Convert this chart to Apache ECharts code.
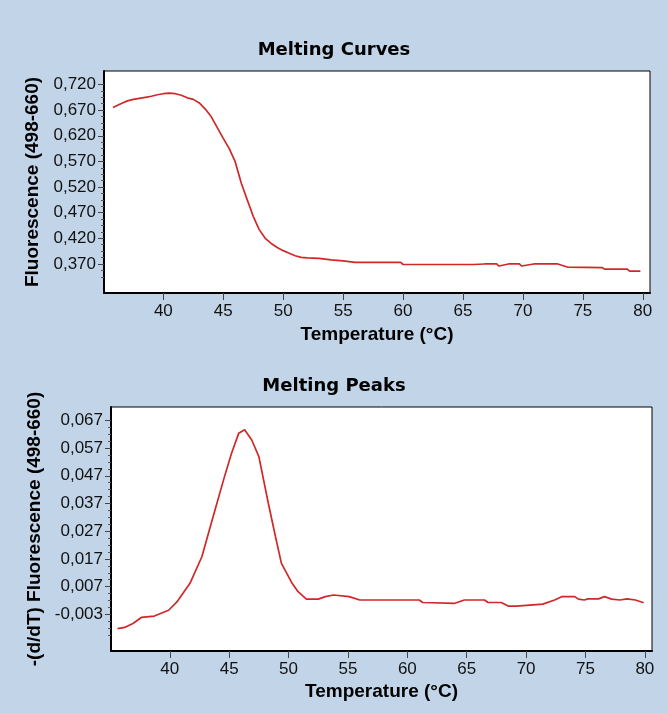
<!DOCTYPE html>
<html>
<head>
<meta charset="utf-8">
<title>Melting Curves / Melting Peaks</title>
<script src="https://cdn.jsdelivr.net/npm/echarts@6/dist/echarts.min.js"></script>
<style>
	html, body { margin: 0; padding: 0; background: #c2d5e8; }
	#chart { width: 668px; height: 713px; }
</style>
</head>
<body>
<div id="chart"></div>
<script>
// melting curve (fluorescence vs temperature)
var meltTemp = [35.8, 36.5, 37.0, 37.5, 38.0, 38.5, 39.0, 39.5, 40.0, 40.5, 41.0, 41.5, 42.0, 42.5, 43.0, 43.5, 44.0, 44.5, 45.0, 45.5,
	46.0, 46.5, 47.0, 47.5, 48.0, 48.5, 49.0, 49.5, 50.0, 50.5, 51.0, 51.5, 52.0, 53.0, 54.0, 55.0, 56.0, 58.0, 59.8, 60.0,
	62.0, 64.0, 65.9, 66.0, 66.8, 67.8, 68.0, 68.8, 69.7, 69.9, 70.9, 72.9, 73.7, 76.6, 76.8, 78.7, 78.9, 79.8];
var meltFluor = [0.675, 0.683, 0.688, 0.691, 0.693, 0.695, 0.697, 0.700, 0.702, 0.703, 0.702, 0.699, 0.694, 0.691, 0.684, 0.672, 0.657, 0.636, 0.615, 0.595,
	0.569, 0.528, 0.495, 0.463, 0.437, 0.420, 0.410, 0.402, 0.396, 0.391, 0.386, 0.383, 0.382, 0.381, 0.378, 0.376, 0.373, 0.373, 0.373, 0.369,
	0.369, 0.369, 0.369, 0.367, 0.370, 0.370, 0.366, 0.370, 0.370, 0.366, 0.370, 0.370, 0.364, 0.363, 0.360, 0.360, 0.356, 0.356];

// melting peaks (-dF/dT vs temperature)
var peakTemp = [35.6, 36.2, 36.9, 37.6, 38.7, 39.9, 40.6, 41.7, 42.7, 43.8, 44.6, 45.2, 45.8, 46.3, 46.9, 47.5, 48.3, 48.9, 49.4, 50.3,
	50.8, 51.5, 52.5, 53.1, 53.8, 55.1, 56.0, 61.0, 61.3, 64.0, 64.8, 66.5, 66.8, 67.9, 68.5, 69.2, 69.3, 71.4, 72.4, 73.0,
	74.1, 74.4, 74.9, 75.2, 76.1, 76.6, 77.2, 77.9, 78.5, 79.2, 79.9];
var peakValue = [-0.0081, -0.0077, -0.0063, -0.0041, -0.0036, -0.0015, 0.0015, 0.0082, 0.0178, 0.0346, 0.0466, 0.0551, 0.0623, 0.0636, 0.0599, 0.0539, 0.0370, 0.0250, 0.0154, 0.0082,
	0.0052, 0.0025, 0.0025, 0.0034, 0.0040, 0.0034, 0.0022, 0.0022, 0.0013, 0.0010, 0.0022, 0.0022, 0.0013, 0.0013, 0.0000, 0.0000, 0.0007, 0.0007, 0.0022, 0.0034,
	0.0034, 0.0025, 0.0022, 0.0026, 0.0026, 0.0034, 0.0025, 0.0022, 0.0026, 0.0022, 0.0012];

// tick labels
var tempTicks = [40, 45, 50, 55, 60, 65, 70, 75, 80];
var meltTicks = [0.370, 0.420, 0.470, 0.520, 0.570, 0.620, 0.670, 0.720];
var peakTicks = [-0.003, 0.007, 0.017, 0.027, 0.037, 0.047, 0.057, 0.067];

function minorTicks(ticks, step, below) {
	var out = [];
	var k, j;
	for (k = 1; k <= below; k++) out.push(ticks[0] - k * step);
	for (k = 0; k < ticks.length; k++) {
		for (j = 1; j < 4 && k < ticks.length - 1; j++) out.push(ticks[k] + j * step);
	}
	return out;
}

function zip(xs, ys) {
	return xs.map(function (x, i) { return [x, ys[i]]; });
}

var FONT = 'Liberation Sans';
var LINE_RED = '#d02828';

function tempAxis(gridIndex, nameGap) {
	return {
		type: 'value',
		gridIndex: gridIndex,
		min: 35.05,
		max: 80.6,
		name: 'Temperature (°C)',
		nameLocation: 'middle',
		nameGap: nameGap,
		nameTextStyle: { fontFamily: FONT, fontWeight: 'bold', fontSize: 19, color: '#000' },
		axisLine: { show: true, onZero: false, lineStyle: { color: '#000', width: 2 } },
		axisTick: { show: true, length: 7, customValues: tempTicks, lineStyle: { color: '#444' } },
		axisLabel: { customValues: tempTicks, fontFamily: FONT, fontSize: 17, color: '#111', margin: 10 },
		splitLine: { show: false }
	};
}

function valueAxis(gridIndex, min, max, ticks, name, nameGap) {
	return {
		type: 'value',
		gridIndex: gridIndex,
		position: 'left',
		min: min,
		max: max,
		name: name,
		nameLocation: 'middle',
		nameGap: nameGap,
		nameTextStyle: { fontFamily: FONT, fontWeight: 'bold', fontSize: 19, color: '#000' },
		axisLine: { show: true, onZero: false, lineStyle: { color: '#000', width: 2 } },
		axisTick: { show: true, length: 6, customValues: ticks, lineStyle: { color: '#444' } },
		axisLabel: {
			customValues: ticks, fontFamily: FONT, fontSize: 17, color: '#111', margin: 8,
			formatter: function (v) { return v.toFixed(3).replace('.', ','); }
		},
		splitLine: { show: false }
	};
}

function minorAxis(gridIndex, min, max, ticks) {
	return {
		type: 'value',
		gridIndex: gridIndex,
		position: 'left',
		offset: 0,
		min: min,
		max: max,
		axisLine: { show: false },
		axisTick: { show: true, length: 3, customValues: ticks, lineStyle: { color: '#555' } },
		axisLabel: { show: false },
		splitLine: { show: false }
	};
}

var titleStyle = { fontFamily: 'DejaVu Sans', fontWeight: 'bold', fontSize: 18, color: '#000' };

var myChart = echarts.init(document.getElementById('chart'));
var option = {
	backgroundColor: '#c2d5e8',
	animation: false,
	title: [
		{ text: 'Melting Curves', left: 'center', top: 36, textStyle: titleStyle },
		{ text: 'Melting Peaks', left: 'center', top: 372, textStyle: titleStyle }
	],
	grid: [
		{ left: 104, top: 71, right: 18, height: 222, show: true, backgroundColor: '#fff', borderColor: '#000', borderWidth: 1 },
		{ left: 111, top: 407, right: 16, height: 244, show: true, backgroundColor: '#fff', borderColor: '#000', borderWidth: 1 }
	],
	xAxis: [tempAxis(0, 32), tempAxis(1, 31)],
	yAxis: [
		valueAxis(0, 0.3134, 0.7463, meltTicks, 'Fluorescence (498-660)', 58),
		minorAxis(0, 0.3134, 0.7463, minorTicks(meltTicks, 0.0125, 2)),
		valueAxis(1, -0.0162, 0.0718, peakTicks, '-(d/dT) Fluorescence (498-660)', 63),
		minorAxis(1, -0.0162, 0.0718, minorTicks(peakTicks, 0.0025, 3))
	],
	series: [
		{
			name: 'Melting Curves', type: 'line', xAxisIndex: 0, yAxisIndex: 0,
			data: zip(meltTemp, meltFluor), showSymbol: false, symbol: 'none',
			lineStyle: { color: LINE_RED, width: 1.7 }
		},
		{
			name: 'Melting Peaks', type: 'line', xAxisIndex: 1, yAxisIndex: 2,
			data: zip(peakTemp, peakValue), showSymbol: false, symbol: 'none',
			lineStyle: { color: LINE_RED, width: 1.7 }
		}
	]
};
myChart.setOption(option);
</script>
</body>
</html>
